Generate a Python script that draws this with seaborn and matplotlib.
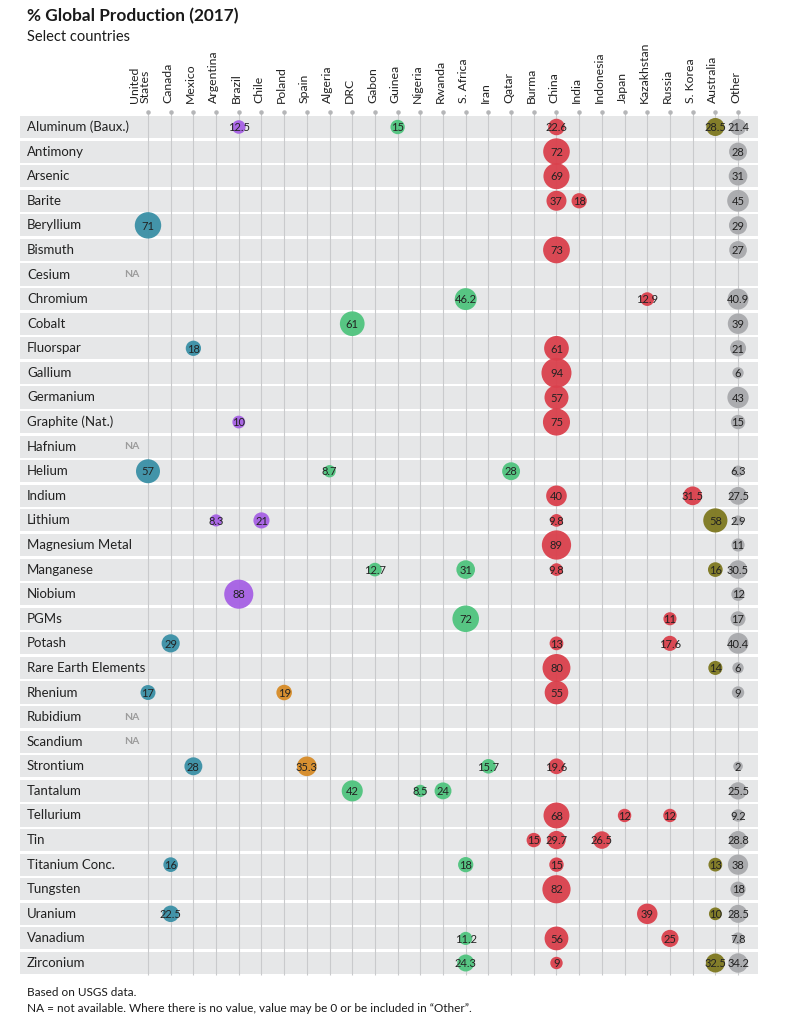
import pandas as pd
import matplotlib.pyplot as plt
import seaborn as sns

# =====================================
# DATA
# =====================================

countries = [
    "United\nStates", "Canada", "Mexico", "Argentina", "Brazil", "Chile",
    "Poland", "Spain", "Algeria", "DRC", "Gabon", "Guinea", "Nigeria",
    "Rwanda", "S. Africa", "Iran", "Qatar", "Burma", "China", "India",
    "Indonesia", "Japan", "Kazakhstan", "Russia", "S. Korea", "Australia",
    "Other",
]

country_region = [
    "N. America", "N. America", "N. America",
    "S. America", "S. America", "S. America",
    "Europe", "Europe",
    "Africa", "Africa", "Africa", "Africa", "Africa", "Africa", "Africa",
    "Africa", "Africa",
    "Asia", "Asia", "Asia", "Asia", "Asia", "Asia", "Asia", "Asia",
    "Australia",
    "Other",
]

region_colors = {
    "N. America": "#3a90a6",
    "S. America": "#a660e4",
    "Europe": "#d78b27",
    "Africa": "#4fc47e",
    "Asia": "#da404c",
    "Australia": "#7e7820",
    "Other": "#a8a9ac",
}

minerals = [
    "Aluminum (Baux.)", "Antimony", "Arsenic", "Barite", "Beryllium",
    "Bismuth", "Cesium", "Chromium", "Cobalt", "Fluorspar", "Gallium",
    "Germanium", "Graphite (Nat.)", "Hafnium", "Helium", "Indium",
    "Lithium", "Magnesium Metal", "Manganese", "Niobium", "PGMs", "Potash",
    "Rare Earth Elements", "Rhenium", "Rubidium", "Scandium", "Strontium",
    "Tantalum", "Tellurium", "Tin", "Titanium Conc.", "Tungsten", "Uranium",
    "Vanadium", "Zirconium",
]

na_minerals = ["Cesium", "Hafnium", "Rubidium", "Scandium"]

row_countries = [
    ["Brazil", "Guinea", "China", "Australia", "Other"],
    ["China", "Other"],
    ["China", "Other"],
    ["China", "India", "Other"],
    ["United\nStates", "Other"],
    ["China", "Other"],
    [],
    ["S. Africa", "Kazakhstan", "Other"],
    ["DRC", "Other"],
    ["Mexico", "China", "Other"],
    ["China", "Other"],
    ["China", "Other"],
    ["Brazil", "China", "Other"],
    [],
    ["United\nStates", "Algeria", "Qatar", "Other"],
    ["China", "S. Korea", "Other"],
    ["Argentina", "Chile", "China", "Australia", "Other"],
    ["China", "Other"],
    ["Gabon", "S. Africa", "China", "Australia", "Other"],
    ["Brazil", "Other"],
    ["S. Africa", "Russia", "Other"],
    ["Canada", "China", "Russia", "Other"],
    ["China", "Australia", "Other"],
    ["United\nStates", "Poland", "China", "Other"],
    [],
    [],
    ["Mexico", "Spain", "Iran", "China", "Other"],
    ["DRC", "Nigeria", "Rwanda", "Other"],
    ["China", "Japan", "Russia", "Other"],
    ["Burma", "China", "Indonesia", "Other"],
    ["Canada", "S. Africa", "China", "Australia", "Other"],
    ["China", "Other"],
    ["Canada", "Kazakhstan", "Australia", "Other"],
    ["S. Africa", "China", "Russia", "Other"],
    ["S. Africa", "China", "Australia", "Other"],
]

row_values = [
    [12.5, 15, 22.6, 28.5, 21.4],
    [72, 28],
    [69, 31],
    [37, 18, 45],
    [71, 29],
    [73, 27],
    [],
    [46.2, 12.9, 40.9],
    [61, 39],
    [18, 61, 21],
    [94, 6],
    [57, 43],
    [10, 75, 15],
    [],
    [57, 8.7, 28, 6.3],
    [40, 31.5, 27.5],
    [8.3, 21, 9.8, 58, 2.9],
    [89, 11],
    [12.7, 31, 9.8, 16, 30.5],
    [88, 12],
    [72, 11, 17],
    [29, 13, 17.6, 40.4],
    [80, 14, 6],
    [17, 19, 55, 9],
    [],
    [],
    [28, 35.3, 15.7, 19.6, 2],
    [42, 8.5, 24, 25.5],
    [68, 12, 12, 9.2],
    [15, 29.7, 26.5, 28.8],
    [16, 18, 15, 13, 38],
    [82, 18],
    [22.5, 39, 10, 28.5],
    [11.2, 56, 25, 7.8],
    [24.3, 9, 32.5, 34.2],
]

# =====================================
# BUILD TABLE
# =====================================

records = []
for i, mineral in enumerate(minerals):
    for country, value in zip(row_countries[i], row_values[i]):
        c = countries.index(country)
        records.append({
            "mineral": mineral,
            "row": i,
            "col": c,
            "region": country_region[c],
            "value": value,
        })
df = pd.DataFrame(records)

# =====================================
# PLOT
# =====================================

sns.set_style("white")
plt.rcParams["font.family"] = ["Lato", "DejaVu Sans"]

fig = plt.figure(figsize=(7.91, 10.24), dpi=100)
ax = fig.add_axes([20 / 791, 1 - 975.3 / 1024, 738 / 791, 860.6 / 1024])

n_rows = len(minerals)
n_cols = len(countries)

# row bands
for i in range(n_rows):
    ax.axhspan(i - 0.45, i + 0.45, color="#e6e7e8", zorder=0, lw=0)

# column grid lines with dots on top
ax.vlines(range(n_cols), -0.6, n_rows - 0.5, color="#c9cacc",
          lw=0.8, zorder=1, clip_on=False)
ax.scatter(range(n_cols), [-0.6] * n_cols, s=5, color="#b5b6b8",
           zorder=1, clip_on=False)

sns.scatterplot(
    data=df,
    x="col",
    y="row",
    hue="region",
    palette=region_colors,
    size="value",
    sizes=(39, 494),
    size_norm=(0, 100),
    linewidth=0,
    alpha=0.95,
    legend=False,
    zorder=3,
    ax=ax,
)
ax.set_xlim(-5.64, 26.88)
ax.set_ylim(n_rows - 0.5, -0.5)
ax.axis("off")

# value labels
for _, r in df.iterrows():
    ax.text(r["col"], r["row"] + 0.03, f"{r['value']:g}",
            ha="center", va="center", fontsize=8, color="#222222",
            zorder=4)

# mineral labels
for i, mineral in enumerate(minerals):
    ax.text(0.0095, i, mineral, transform=ax.get_yaxis_transform(),
            ha="left", va="center", fontsize=9.5, color="#222222")
    if mineral in na_minerals:
        ax.text(-0.72, i, "NA", ha="center", va="center", fontsize=7.5,
                fontweight="bold", color="#9c9c9c")

# country labels
for j, country in enumerate(countries):
    ax.text(j + 0.13, 1.0136, country, transform=ax.get_xaxis_transform(),
            rotation=90, ha="right", va="bottom", multialignment="left",
            fontsize=8.8, color="#222222", linespacing=0.95)

# titles and notes
fig.text(27 / 791, 1 - 8 / 1024, "% Global Production (2017)",
         fontsize=12.4, fontweight="bold", va="top", color="#1a1a1a")
fig.text(27 / 791, 1 - 30 / 1024, "Select countries",
         fontsize=10.5, va="top", color="#1a1a1a")
fig.text(27 / 791, 1 - 993 / 1024, "Based on USGS data.",
         fontsize=8.5, va="center", color="#1a1a1a")
fig.text(27 / 791, 1 - 1008 / 1024,
         "NA = not available. Where there is no value, value may be 0 "
         "or be included in \u201cOther\u201d.",
         fontsize=8.5, va="center", color="#1a1a1a")

fig.savefig("out.png", dpi=100)
